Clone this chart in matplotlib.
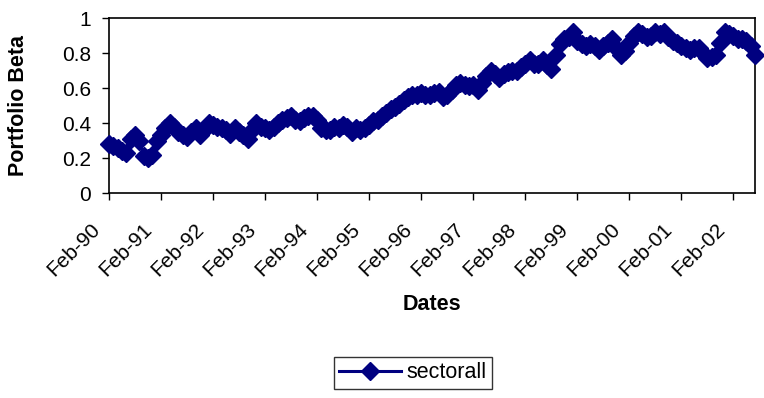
import matplotlib
matplotlib.use("Agg")
import matplotlib.pyplot as plt
import matplotlib.transforms as mtrans
import numpy as np
import pandas as pd

plt.rcParams["font.family"] = ["Liberation Sans", "DejaVu Sans"]

# monthly portfolio beta, Feb-90 .. Jul-02
dates = pd.date_range("1990-02-01", periods=150, freq="MS")
beta = [
    0.28, 0.27, 0.26, 0.24, 0.23, 0.31, 0.33, 0.30, 0.21, 0.20,
    0.22, 0.30, 0.33, 0.37, 0.40, 0.38, 0.35, 0.33, 0.32, 0.35,
    0.37, 0.33, 0.36, 0.40, 0.39, 0.38, 0.37, 0.36, 0.34, 0.37,
    0.35, 0.33, 0.31, 0.36, 0.40, 0.38, 0.37, 0.36, 0.38, 0.40,
    0.42, 0.43, 0.44, 0.42, 0.41, 0.43, 0.44, 0.44, 0.42, 0.37,
    0.36, 0.36, 0.38, 0.37, 0.39, 0.38, 0.35, 0.37, 0.36, 0.37,
    0.39, 0.41, 0.42, 0.44, 0.46, 0.48, 0.49, 0.51, 0.53, 0.55,
    0.56, 0.56, 0.57, 0.56, 0.56, 0.57, 0.58, 0.55, 0.56, 0.59,
    0.62, 0.63, 0.62, 0.61, 0.62, 0.59, 0.63, 0.67, 0.70, 0.68,
    0.66, 0.68, 0.69, 0.70, 0.70, 0.72, 0.74, 0.76, 0.74, 0.74,
    0.76, 0.73, 0.71, 0.79, 0.85, 0.88, 0.89, 0.92, 0.87, 0.85,
    0.84, 0.85, 0.84, 0.82, 0.84, 0.86, 0.88, 0.83, 0.79, 0.81,
    0.86, 0.90, 0.92, 0.91, 0.89, 0.90, 0.92, 0.91, 0.92, 0.89,
    0.87, 0.86, 0.84, 0.83, 0.82, 0.83, 0.83, 0.80, 0.77, 0.78,
    0.79, 0.86, 0.92, 0.91, 0.90, 0.88, 0.88, 0.87, 0.84, 0.79,
]
series_name = "sectorall"
yticks = [0, 0.2, 0.4, 0.6, 0.8, 1]

x = np.arange(len(beta))
tick_pos = x[::12]
tick_labels = [d.strftime("%b-%y") for d in dates[::12]]

fig = plt.figure(figsize=(7.64, 3.98), dpi=100)
ax = fig.add_axes([109 / 764, 1 - 193 / 398, 646 / 764, 175 / 398])

navy = "#000080"
ax.plot(x, beta, color=navy, lw=2.2, marker="D", ms=9, mec=navy, mfc=navy,
        label=series_name, clip_on=False, zorder=3)

ax.set_xlim(0, len(beta) - 1)
ax.set_ylim(0, 1)
ax.set_yticks(yticks)
ax.set_yticklabels(["0", "0.2", "0.4", "0.6", "0.8", "1"])
ax.set_xticks(tick_pos)
ax.set_xticklabels(tick_labels, rotation=45, ha="right", va="top")
ax.tick_params(axis="both", direction="out", length=5, width=1,
               labelsize=15, color="black")
ax.tick_params(axis="y", pad=8)
ax.tick_params(axis="x", pad=14)
shift = mtrans.ScaledTranslation(-5 / 100, 0, fig.dpi_scale_trans)
for lab in ax.get_xticklabels():
    lab.set_transform(lab.get_transform() + shift)
for s in ax.spines.values():
    s.set_color("black")
    s.set_linewidth(1.2)

ax.set_xlabel("Dates", fontsize=15.5, fontweight="bold")
ax.xaxis.set_label_coords(0.5, (193 - 305) / 175)
ax.xaxis.label.set_va("center")
ax.set_ylabel("Portfolio Beta", fontsize=15.5, fontweight="bold")
ax.yaxis.set_label_coords((18 - 109) / 646, 0.5)
ax.yaxis.label.set_va("center")

leg = fig.legend(loc="center", bbox_to_anchor=(413 / 764, 1 - 373 / 398),
                 fontsize=15.5, frameon=True, fancybox=False, handlelength=2.9,
                 borderpad=0.25, handletextpad=0.25, borderaxespad=0)
leg.get_frame().set_edgecolor("black")
leg.get_frame().set_linewidth(1)

fig.savefig("out.png", dpi=100)
